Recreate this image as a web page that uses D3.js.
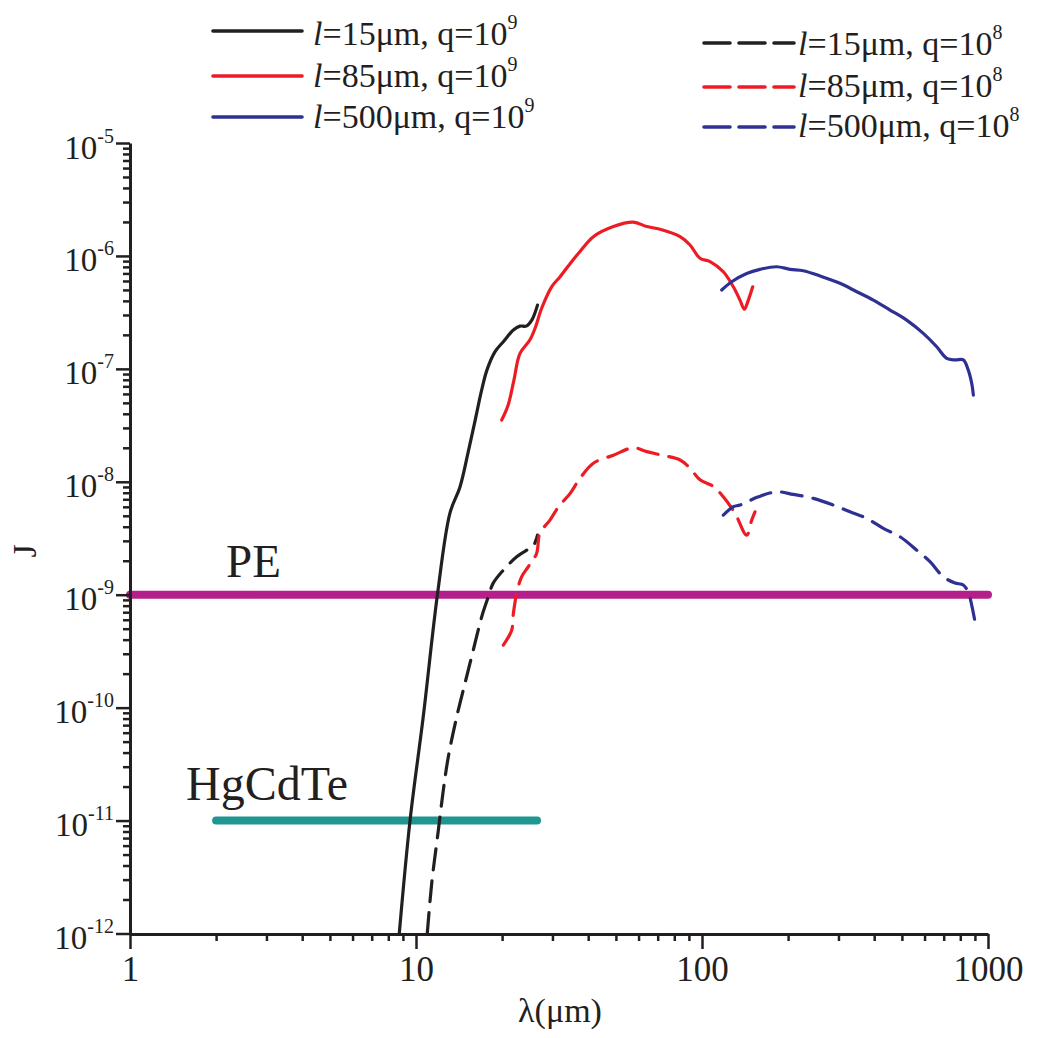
<!DOCTYPE html>
<html>
<head>
<meta charset="utf-8">
<style>
body { margin: 0; background: #fff; }
svg text { font-family: "Liberation Serif", "Times New Roman", serif; fill: #231f20; }
.axis .domain { stroke: #231f20; stroke-width: 3; }
.axis .tick line { stroke: #231f20; stroke-width: 2.5; }
</style>
</head>
<body>
<svg width="1047" height="1038"></svg>
<script src="https://d3js.org/d3.v7.min.js"></script>
<script>

// values: [lambda (um), J]
var l15q9 = [[8.74,1e-12],[9.53,1e-11],[10.6,8.3e-11],[11.9,1.03e-9],[13.15,5.3e-9],[14.25,9.0e-9],
  [15.2,1.8e-8],[16.1,3.5e-8],[16.97,6.5e-8],[17.7,9.75e-8],[18.9,1.42e-7],[20.2,1.74e-7],
  [21.9,2.21e-7],[23.1,2.39e-7],[24.3,2.39e-7],[25.4,2.7e-7],[26.6,3.67e-7]];
var l85q9 = [[19.94,3.52e-8],[21.0,4.78e-8],[22.0,7.96e-8],[23.1,1.37e-7],[25.0,1.8e-7],[26.1,2.3e-7],
  [27.5,3.44e-7],[29.8,5.33e-7],[31.9,6.55e-7],[35.0,8.9e-7],[37.4,1.09e-6],[41.7,1.48e-6],
  [49.0,1.82e-6],[57.5,1.99e-6],[64.1,1.82e-6],[71.3,1.72e-6],[83.8,1.48e-6],[90.8,1.25e-6],
  [98.4,9.53e-7],[106.7,8.9e-7],[118.7,7.24e-7],[128.7,5.33e-7],[135.8,4.06e-7],[140.6,3.37e-7],
  [145.2,4.06e-7],[150.4,5.33e-7]];
var l500q9 = [[117.2,4.99e-7],[127.0,5.91e-7],[143.3,7.0e-7],[159.5,7.61e-7],[182.5,8.02e-7],
  [203.2,7.61e-7],[226,7.4e-7],[258.6,6.64e-7],[303.7,5.72e-7],[347.5,4.82e-7],[397.2,4.06e-7],
  [454.3,3.32e-7],[519.6,2.7e-7],[594,2.06e-7],[661.7,1.57e-7],[717,1.24e-7],[766.5,1.2e-7],
  [819.5,1.2e-7],[853.2,9.75e-8],[877,7.45e-8],[888.8,5.86e-8]];
var l15q8 = [[10.95,1e-12],[11.35,2.79e-12],[11.97,8.2e-12],[12.46,1.86e-11],[12.97,3.66e-11],
  [13.88,8.3e-11],[14.84,1.65e-10],[15.86,3.23e-10],[16.97,6.37e-10],[17.9,9.57e-10],[18.6,1.26e-9],
  [20.2,1.65e-9],[22.5,2.17e-9],[24.4,2.48e-9],[25.6,2.65e-9],[26.6,3.37e-9]];
var l85q8 = [[20.2,3.58e-10],[21.6,4.85e-10],[21.9,6.83e-10],[22.5,1.03e-9],[23.4,1.44e-9],[24.7,1.77e-9],
  [26.4,2.32e-9],[27.1,3.49e-9],[29.4,4.58e-9],[31.5,6.01e-9],[34.6,7.89e-9],[37.4,1.07e-8],
  [41.7,1.46e-8],[49.0,1.72e-8],[57.5,2.0e-8],[64.1,1.85e-8],[72.3,1.72e-8],[83.8,1.56e-8],
  [90.8,1.32e-8],[98.4,1.04e-8],[109.5,9.1e-9],[118.7,7.36e-9],[130.5,5.25e-9],[143.3,3.37e-9],
  [149.2,4.58e-9],[153.2,5.42e-9]];
var l500q8 = [[118.7,5.07e-9],[128.7,6.01e-9],[135.8,6.22e-9],[157.4,7.36e-9],[182.5,8.15e-9],
  [208.5,7.73e-9],[245,7.13e-9],[287.7,6.22e-9],[329.2,5.42e-9],[376.6,4.74e-9],[430.5,3.87e-9],
  [492.4,3.26e-9],[563.3,2.48e-9],[627,1.96e-9],[698,1.44e-9],[766.5,1.27e-9],[819.5,1.22e-9],
  [853,1.05e-9],[877,8.09e-10],[898.5,5.96e-10]];

// detector levels
var peLevel = {name: "PE", from: 1, to: 1000, J: 1e-9};
var hgLevel = {name: "HgCdTe", from: 2, to: 26.5, J: 1e-11};

var xMajor = [1, 10, 100, 1000];
var yExponents = [-12, -11, -10, -9, -8, -7, -6, -5];

var series = [
  {data: l15q9, color: "#231f20", dashed: false, l: "15", q: "9"},
  {data: l85q9, color: "#ed1c24", dashed: false, l: "85", q: "9"},
  {data: l500q9, color: "#2e3192", dashed: false, l: "500", q: "9"},
  {data: l15q8, color: "#231f20", dashed: true, l: "15", q: "8"},
  {data: l85q8, color: "#ed1c24", dashed: true, l: "85", q: "8"},
  {data: l500q8, color: "#2e3192", dashed: true, l: "500", q: "8"}
];

var serif = "'Liberation Serif', 'Times New Roman', serif";
var svg = d3.select("svg");

var x = d3.scaleLog().domain([1, 1000]).range([130, 988]);
var y = d3.scaleLog().domain([1e-12, 1e-5]).range([933.5, 143]);

// detector lines
[peLevel, hgLevel].forEach(function(d, i) {
  svg.append("line")
      .attr("x1", x(d.from)).attr("x2", x(d.to))
      .attr("y1", y(d.J)).attr("y2", y(d.J))
      .attr("stroke", i == 0 ? "#b41f8c" : "#1f968f")
      .attr("stroke-width", 8)
      .attr("stroke-linecap", "round");
});
svg.append("text").attr("x", 226).attr("y", y(peLevel.J) - 18)
    .attr("font-size", 47).text(peLevel.name);
svg.append("text").attr("x", 186).attr("y", y(hgLevel.J) - 21)
    .attr("font-size", 48).text(hgLevel.name);

var line = d3.line()
    .x(function(d) { return x(d[0]); })
    .y(function(d) { return y(d[1]); })
    .curve(d3.curveCatmullRom.alpha(0.5));

svg.append("g").selectAll("path")
  .data(series)
  .enter().append("path")
    .attr("d", function(d) { return line(d.data); })
    .attr("fill", "none")
    .attr("stroke", function(d) { return d.color; })
    .attr("stroke-width", 3.2)
    .attr("stroke-linecap", "round")
    .attr("stroke-dasharray", function(d) { return d.dashed ? "21,11" : null; });

// x axis
var minorX = x.ticks().filter(function(v) { return xMajor.indexOf(v) < 0; });
var gx = svg.append("g").attr("class", "axis").attr("transform", "translate(0,934)");
gx.call(d3.axisBottom(x).tickValues(minorX).tickSize(7).tickSizeOuter(0).tickFormat(""));
gx.append("g").call(d3.axisBottom(x).tickValues(xMajor).tickSize(15).tickSizeOuter(0).tickFormat(d3.format("d")))
  .call(function(g) { g.select(".domain").remove(); })
  .attr("font-family", serif);
gx.selectAll("text")
    .attr("y", 47).attr("dy", null)
    .attr("font-size", 35)
    .style("font-family", serif)
    .style("fill", "#231f20");

// y axis
var minorY = y.ticks().filter(function(v) { return Math.abs(Math.log10(v) - Math.round(Math.log10(v))) > 1e-6; });
var gy = svg.append("g").attr("class", "axis").attr("transform", "translate(130,0)");
gy.call(d3.axisLeft(y).tickValues(minorY).tickSize(7).tickSizeOuter(0).tickFormat(""));
var gyMajor = gy.append("g").call(d3.axisLeft(y).tickValues(yExponents.map(function(e) { return Math.pow(10, e); }))
    .tickSize(14).tickSizeOuter(0).tickFormat(""));
gyMajor.select(".domain").remove();
gyMajor.attr("font-family", serif);
gyMajor.selectAll(".tick").each(function(d) {
  var t = d3.select(this).select("text")
      .attr("x", -16).attr("y", 15).attr("dy", null)
      .attr("font-size", 33)
      .attr("text-anchor", "end")
      .style("font-family", serif)
      .style("fill", "#231f20");
  t.append("tspan").text("10");
  t.append("tspan").attr("dy", -16).attr("font-size", 20).text(Math.round(Math.log10(d)));
});

// axis titles
svg.append("text")
    .attr("transform", "translate(36,551) rotate(-90)")
    .attr("text-anchor", "middle")
    .attr("font-size", 34)
    .text("J");
svg.append("text")
    .attr("x", 560).attr("y", 1022)
    .attr("text-anchor", "middle")
    .attr("font-size", 34)
    .text("λ(μm)");

// legend
var legendPos = [
  {x1: 213, x2: 302, tx: 313, ly: 31, ty: 45},
  {x1: 213, x2: 302, tx: 313, ly: 76, ty: 87},
  {x1: 213, x2: 302, tx: 313, ly: 117, ty: 128},
  {x1: 704, x2: 794, tx: 798, ly: 43, ty: 55},
  {x1: 704, x2: 794, tx: 798, ly: 87, ty: 97},
  {x1: 704, x2: 794, tx: 798, ly: 127, ty: 137}
];
var legend = svg.append("g").selectAll("g")
  .data(series)
  .enter().append("g");
legend.append("line")
    .attr("x1", function(d, i) { return legendPos[i].x1; })
    .attr("x2", function(d, i) { return legendPos[i].x2; })
    .attr("y1", function(d, i) { return legendPos[i].ly; })
    .attr("y2", function(d, i) { return legendPos[i].ly; })
    .attr("stroke", function(d) { return d.color; })
    .attr("stroke-width", 3.6)
    .attr("stroke-linecap", "round")
    .attr("stroke-dasharray", function(d) { return d.dashed ? "26,9" : null; });
var lt = legend.append("text")
    .attr("x", function(d, i) { return legendPos[i].tx; })
    .attr("y", function(d, i) { return legendPos[i].ty; })
    .attr("font-size", 34);
lt.append("tspan").attr("font-style", "italic").text("l");
lt.append("tspan").text(function(d) { return "=" + d.l + "μm, q=10"; });
lt.append("tspan").attr("dy", -16).attr("font-size", 20).text(function(d) { return d.q; });

</script>
</body>
</html>
